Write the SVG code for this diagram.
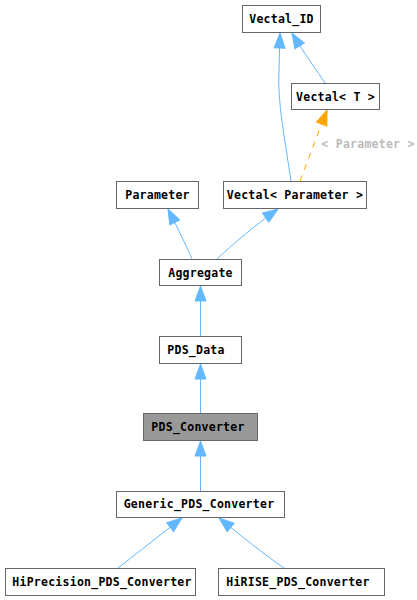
<svg xmlns="http://www.w3.org/2000/svg" width="417" height="600" viewBox="0 0 417 600">
<style>
.n rect{fill:#fff;stroke:#666;stroke-width:1}
.n text{font-family:"DejaVu Sans Mono","Liberation Mono",monospace;font-weight:bold;font-size:11.5px;letter-spacing:0.25px;fill:#000;text-anchor:middle}
.e{fill:none;stroke:#63b8ff;stroke-width:1}
.d{fill:none;stroke:#ffa500;stroke-width:1;stroke-dasharray:6,6}
.lbl{font-family:"DejaVu Sans Mono","Liberation Mono",monospace;font-weight:bold;font-size:11.5px;letter-spacing:0.25px;fill:#bbb;text-anchor:middle}
</style>
<defs>
<marker id="ab" markerUnits="userSpaceOnUse" markerWidth="16" markerHeight="12" refX="15" refY="5.5" orient="auto" overflow="visible">
<path d="M0,0 L15,5.5 L0,11 z" fill="#63b8ff" stroke="#63b8ff" stroke-width="1"/>
</marker>
<marker id="ao" markerUnits="userSpaceOnUse" markerWidth="16" markerHeight="12" refX="15" refY="5.5" orient="auto" overflow="visible">
<path d="M0,0 L15,5.5 L0,11 z" fill="#ffa500" stroke="#ffa500" stroke-width="1"/>
</marker>
</defs>
<rect width="417" height="600" fill="#fff"/>
<g id="edges">
<path class="e" d="M291,181 C285,140 277,100 279,70 L280,33" marker-end="url(#ab)"/>
<path class="e" d="M325,83 C318,72 305,55 292,33" marker-end="url(#ab)"/>
<path class="d" d="M300,181 L327,110" marker-end="url(#ao)"/>
<text class="lbl" x="368" y="147.5">&lt; Parameter &gt;</text>
<path class="e" d="M192,259 C186,245 176,225 168,209" marker-end="url(#ab)"/>
<path class="e" d="M217,259 C232,245 255,225 278,209" marker-end="url(#ab)"/>
<path class="e" d="M200.5,336 L200.5,286" marker-end="url(#ab)"/>
<path class="e" d="M200.5,413 L200.5,364" marker-end="url(#ab)"/>
<path class="e" d="M200.5,491 L200.5,441" marker-end="url(#ab)"/>
<path class="e" d="M118,568 C135,555 160,535 182,518" marker-end="url(#ab)"/>
<path class="e" d="M284,568 C265,555 240,535 219,518" marker-end="url(#ab)"/>
</g>
<g id="Vectal_ID" class="n"><rect x="242.5" y="5.5" width="78" height="27"/><text x="281.5" y="23">Vectal_ID</text></g>
<g id="Vectal_T" class="n"><rect x="291.5" y="83.5" width="88" height="26"/><text x="335.5" y="100.5">Vectal&lt; T &gt;</text></g>
<g id="Parameter" class="n"><rect x="116.5" y="181.5" width="82" height="27"/><text x="157.5" y="199">Parameter</text></g>
<g id="Vectal_Parameter" class="n"><rect x="223.5" y="181.5" width="143" height="27"/><text x="295" y="199">Vectal&lt; Parameter &gt;</text></g>
<g id="Aggregate" class="n"><rect x="159.5" y="259.5" width="82" height="26"/><text x="200.5" y="276.5">Aggregate</text></g>
<g id="PDS_Data" class="n"><rect x="159.5" y="336.5" width="82" height="27"/><text x="196" y="354">PDS_Data</text></g>
<g id="PDS_Converter" class="n"><rect x="143.5" y="413.5" width="114" height="27" style="fill:#999"/><text x="198" y="431">PDS_Converter</text></g>
<g id="Generic_PDS_Converter" class="n"><rect x="116.5" y="491.5" width="168" height="26"/><text x="199" y="508">Generic_PDS_Converter</text></g>
<g id="HiPrecision_PDS_Converter" class="n"><rect x="5.5" y="568.5" width="190" height="27"/><text x="102" y="586">HiPrecision_PDS_Converter</text></g>
<g id="HiRISE_PDS_Converter" class="n"><rect x="218.5" y="568.5" width="166" height="27"/><text x="298" y="586">HiRISE_PDS_Converter</text></g>
</svg>
